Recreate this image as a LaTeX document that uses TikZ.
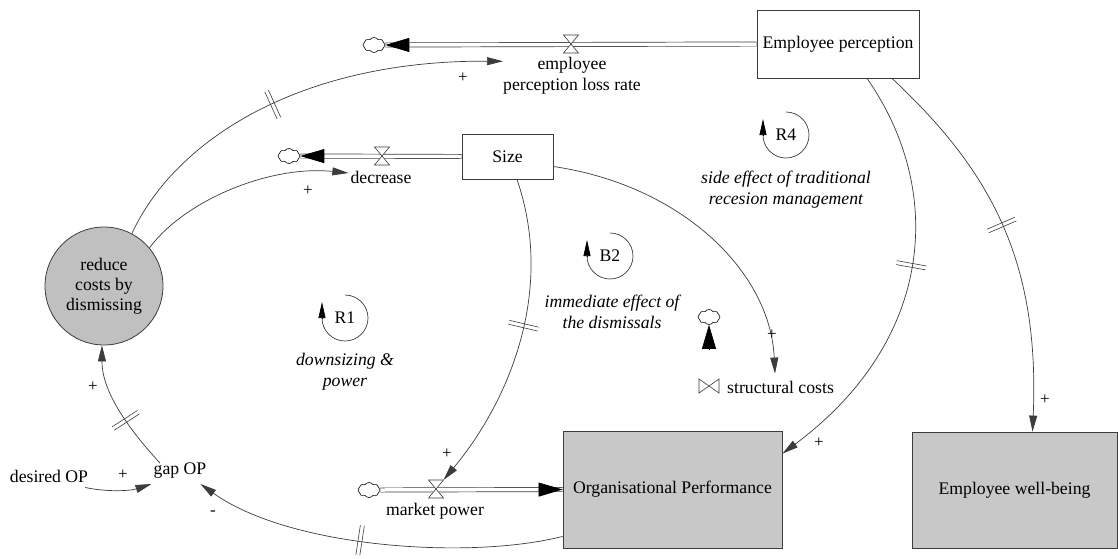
\documentclass[tikz,border=0pt]{standalone}
\usepackage{fontspec}
\setmainfont{Liberation Serif}
\usetikzlibrary{arrows.meta,shapes.symbols,calc}

\definecolor{stockfill}{RGB}{200,200,200}
\definecolor{auxfill}{RGB}{192,192,192}
\definecolor{linegray}{RGB}{60,60,60}

\begin{document}
\begin{tikzpicture}[x=1pt,y=-1pt,
  every node/.style={font=\fontsize{17.7pt}{21pt}\selectfont},
  lbl/.style={inner sep=0pt, align=center},
  stock/.style={draw=linegray, line width=0.8pt, inner sep=0pt},
  link/.style={draw=linegray, line width=0.7pt, -{Triangle[length=16pt,width=8pt]}},
  pipe/.style={draw=linegray, double=white, double distance=3.5pt, line width=0.7pt},
  flowtip/.style={line width=0.7pt, -{Triangle[length=24pt,width=14pt]}},
  sink/.style={cloud, cloud puffs=8, cloud puff arc=110, aspect=1.4, draw, line width=0.6pt,
    minimum width=22pt, minimum height=15pt, inner sep=0pt, fill=white},
  valvebox/.style={inner sep=0pt, outer sep=0pt},
  valveline/.style={draw=linegray, line width=0.6pt, fill=white},
  pol/.style={font=\fontsize{17pt}{17pt}\selectfont, inner sep=0pt},
  loopnote/.style={font=\fontsize{17.7pt}{21pt}\selectfont\itshape, align=center, inner sep=0pt},
  looparc/.style={draw=linegray, line width=0.7pt},
  loophead/.style={line width=0.7pt, -{Triangle[length=16pt,width=7pt]}},
  dmark/.style={sloped, inner sep=0pt, outer sep=0pt, minimum width=4pt, minimum height=30pt},
  tick/.style={draw=linegray, line width=0.6pt},
]
\fill[white] (0,0) rectangle (1118,558);
\useasboundingbox (0,0) rectangle (1118,558);

% stocks and the auxiliary decision
\node[stock, minimum width=162pt, minimum height=68pt] (EP) at (838,44) {Employee perception};
\node[stock, minimum width=91pt, minimum height=45pt] (S) at (507.5,156.5) {Size};
\node[stock, fill=stockfill, minimum width=219pt, minimum height=117pt] (OP) at (672.5,489.5) {Organisational Performance};
\node[stock, fill=stockfill, minimum width=205pt, minimum height=116pt] (EWB) at (1014.5,490) {Employee well-being};
\node[circle, draw=linegray, line width=0.8pt, fill=auxfill, minimum size=118pt, align=center,
  inner sep=0pt, font=\fontsize{17.7pt}{20pt}\selectfont] (RC) at (104,286) {reduce\\costs by\\dismissing};

% sources and sinks
\node[sink] (cEPL) at (374,45) {};
\node[sink] (cDec) at (289,156) {};
\node[sink] (cMP) at (369,490) {};
\node[sink] (cSC) at (709,317) {};

% valves
\node[valvebox, minimum width=15pt, minimum height=18pt] (vEPL) at (571,44) {};
\node[valvebox, minimum width=15pt, minimum height=18pt] (vDec) at (382,156) {};
\node[valvebox, minimum width=15pt, minimum height=18pt] (vMP) at (436,489) {};
\node[valvebox, minimum width=20pt, minimum height=14pt] (vSC) at (709,386) {};

% rate and auxiliary labels
\node[lbl] (eplr) at (572,76) {employee\\perception loss rate};
\node[lbl] (dec) at (381,177) {decrease};
\node[lbl] (mp) at (435,511) {market power};
\node[lbl, anchor=west] (sc) at (727,387) {structural costs};
\node[lbl] (des) at (49,476) {desired OP};
\node[lbl] (gap) at (180,471) {gap OP};

% flow pipes
\draw[pipe] (EP.west) -- (cEPL.east);
\draw[flowtip] ($(cEPL.east)!24pt!(EP.west)$) -- (cEPL.east);
\draw[pipe] (S.west) -- (cDec.east);
\draw[flowtip] ($(cDec.east)!24pt!(S.west)$) -- (cDec.east);
\draw[pipe] (cMP.east) -- (OP.west);
\draw[flowtip] ($(OP.west)!24pt!(cMP.east)$) -- (OP.west);
\draw[pipe] (vSC |- OP.north) -- (cSC.south);
\draw[flowtip] ($(cSC.south)!24pt!(vSC |- OP.north)$) -- (cSC.south);

% valve symbols
\draw[valveline] (vEPL.north west) -- (vEPL.north east) -- (vEPL.south west) -- (vEPL.south east) -- cycle;
\draw[valveline] (vDec.north west) -- (vDec.north east) -- (vDec.south west) -- (vDec.south east) -- cycle;
\draw[valveline] (vMP.north west) -- (vMP.north east) -- (vMP.south west) -- (vMP.south east) -- cycle;
\draw[valveline] (vSC.north west) -- (vSC.south west) -- (vSC.north east) -- (vSC.south east) -- cycle;

% causal links (delayed ones carry a double tick)
\draw[link] (RC.62) .. controls (175,140) and (300,60) .. ([yshift=-4pt]eplr.north west)
  node[dmark, pos=0.54] (dA) {};
\draw[link] (RC.40) .. controls (185,200) and (270,165) .. ([shift={(-2pt,4pt)}]dec.west);
\draw[link] ([xshift=-20pt]gap.north) .. controls (125,425) and (102,390) .. (RC.268)
  node[dmark, pos=0.38] (dC) {};
\draw[link] ([shift={(-3pt,-5pt)}]des.south east) .. controls (105,492) and (130,491) .. ([shift={(-2pt,-5pt)}]gap.south west);
\draw[link] ([yshift=12pt]OP.south west) .. controls (470,560) and (290,548) .. ([shift={(-6pt,-5pt)}]gap.south east)
  node[dmark, pos=0.55] (dE) {};
\draw[link] ([xshift=9.5pt]S.south) .. controls (555,290) and (510,400) .. (vMP.north east)
  node[dmark, pos=0.45] (dF) {};
\draw[link] ([yshift=-10pt]S.east) .. controls (680,185) and (770,270) .. ([shift={(48pt,7pt)}]sc.north west);
\draw[link] ([xshift=29pt]EP.south) .. controls (945,190) and (935,340) .. ([yshift=-23pt]OP.north east)
  node[dmark, pos=0.5] (dH) {};
\draw[link] ([xshift=54pt]EP.south) .. controls (990,170) and (1040,260) .. ([xshift=18pt]EWB.north)
  node[dmark, pos=0.5] (dI) {};

\foreach \d in {dA,dC,dE,dF,dH,dI}
  \draw[tick] (\d.north west) -- (\d.south west) (\d.north east) -- (\d.south east);

% polarities
\node[pol] (p1) at (463,78) {+};
\node[pol] (p2) at (308,191) {+};
\node[pol] (p3) at (93,387) {+};
\node[pol] (p4) at (123,475) {+};
\node[pol] (p5) at (213,513) {-};
\node[pol] (p6) at (447,454) {+};
\node[pol] (p7) at (772,335) {+};
\node[pol] (p8) at (819,443) {+};
\node[pol] (p9) at (1045,400) {+};

% loop identifiers
\node[lbl] (R4) at (786,135) {R4};
\node[lbl] (B2) at (610,256) {B2};
\node[lbl] (R1) at (345,318) {R1};
\draw[looparc] ($(R4)+(0,-23)$) arc[start angle=-90, end angle=180, radius=23];
\draw[loophead] ($(R4)+(-23,0)$) -- ++(0,-16);
\draw[looparc] ($(B2)+(0,-23)$) arc[start angle=-90, end angle=180, radius=23];
\draw[loophead] ($(B2)+(-23,0)$) -- ++(0,-16);
\draw[looparc] ($(R1)+(0,-23)$) arc[start angle=-90, end angle=180, radius=23];
\draw[loophead] ($(R1)+(-23,0)$) -- ++(0,-16);

\node[loopnote] (n4) at (786,190) {side effect of traditional\\recesion management};
\node[loopnote] (n2) at (612,312) {immediate effect of\\the dismissals};
\node[loopnote] (n1) at (345,372) {downsizing \&\\power};
\end{tikzpicture}
\end{document}
